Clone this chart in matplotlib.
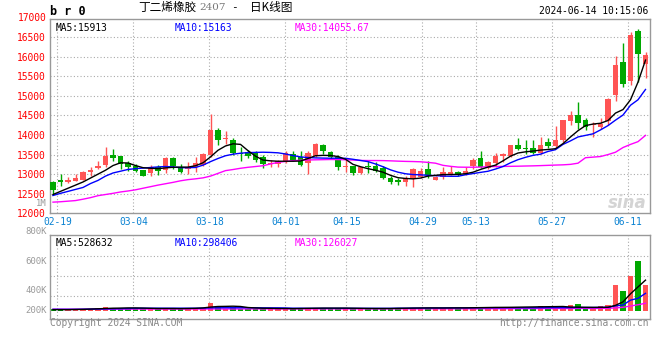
import matplotlib
matplotlib.use('Agg')
import matplotlib.pyplot as plt
import numpy as np

# daily candles, 02-08 .. 06-14 (80 trading days)
opens = [12790, 12862, 12793, 12836, 12862, 13067, 13151, 13246, 13500, 13468,
         13290, 13200, 13110, 13023, 13177, 13110, 13407, 13160, 13136, 13177,
         13240, 13500, 14115, 13903, 13877, 13553, 13560, 13535, 13433, 13263,
         13263, 13330, 13520, 13433, 13280, 13476, 13732, 13578, 13450, 13177,
         13220, 13023, 13220, 13220, 13160, 12895, 12836, 12793, 12880, 12939,
         13136, 12862, 12939, 13008, 13067, 13008, 13220, 13407, 13151, 13280,
         13460, 13460, 13732, 13660, 13660, 13535, 13809, 13716, 13860, 14354,
         14499, 14371, 14243, 14200, 14354, 15030, 15854, 15380, 16650, 15820]
highs = [12836, 13008, 12939, 13008, 13090, 13195, 13348, 13690, 13637, 13470,
         13348, 13263, 13118, 13238, 13246, 13450, 13450, 13263, 13305, 13450,
         13540, 14525, 14185, 14090, 13920, 13690, 13620, 13600, 13500, 13365,
         13360, 13580, 13600, 13580, 13600, 13800, 13775, 13600, 13500, 13365,
         13220, 13195, 13340, 13300, 13220, 12950, 12900, 12960, 13160, 13160,
         13340, 12940, 13195, 13220, 13090, 13170, 13400, 13586, 13330, 13535,
         13540, 13740, 13920, 13860, 13860, 13945, 13920, 14240, 14371, 14610,
         14840, 14440, 14328, 14440, 14943, 16010, 16349, 16630, 16699, 16130]
lows = [12496, 12690, 12767, 12818, 12840, 12946, 13136, 13180, 13330, 13136,
        13074, 13050, 12946, 12964, 12990, 13023, 13136, 13023, 13008, 13050,
        13200, 13450, 13732, 13775, 13480, 13330, 13400, 13300, 13160, 13180,
        13180, 13280, 13340, 13220, 13015, 13450, 13520, 13390, 13100, 13050,
        12990, 13000, 13030, 13050, 12880, 12760, 12720, 12700, 12660, 12900,
        12900, 12840, 12880, 12980, 12960, 12990, 13140, 13160, 13140, 13177,
        13300, 13440, 13620, 13520, 13520, 13510, 13680, 13690, 13830, 14243,
        14158, 14115, 13960, 14158, 14243, 14880, 15225, 15266, 15352, 15463]
closes = [12600, 12793, 12862, 12895, 13067, 13118, 13220, 13476, 13407, 13263,
          13180, 13090, 12946, 13195, 13092, 13407, 13220, 13050, 13177, 13280,
          13520, 14115, 13860, 13929, 13545, 13510, 13476, 13365, 13263, 13289,
          13348, 13553, 13365, 13246, 13545, 13775, 13587, 13450, 13195, 13195,
          13023, 13195, 13177, 13092, 12895, 12793, 12810, 12905, 13136, 13092,
          12990, 12920, 13067, 13067, 12980, 13092, 13373, 13177, 13305, 13476,
          13520, 13732, 13637, 13630, 13545, 13732, 13716, 13860, 14371, 14499,
          14302, 14200, 14269, 14286, 14926, 15780, 15310, 16550, 16080, 16050]

ma5 = [12480, 12560, 12640, 12720, 12800, 12900, 13000, 13100, 13220, 13290,
       13285, 13220, 13165, 13150, 13140, 13160, 13175, 13180, 13180, 13215,
       13290, 13440, 13610, 13720, 13775, 13760, 13600, 13460, 13360, 13340,
       13330, 13330, 13330, 13335, 13400, 13470, 13480, 13476, 13450, 13380,
       13250, 13190, 13140, 13100, 13050, 12970, 12910, 12890, 12880, 12900,
       12950, 12970, 12990, 12990, 12995, 13010, 13050, 13120, 13180, 13230,
       13340, 13460, 13540, 13570, 13590, 13615, 13630, 13650, 13780, 13950,
       14110, 14240, 14280, 14300, 14370, 14560, 14650, 14900, 15350, 15913]
ma10 = [12455, 12510, 12560, 12610, 12660, 12760, 12840, 12950, 13030, 13075,
        13120, 13140, 13155, 13170, 13185, 13195, 13185, 13165, 13165, 13170,
        13230, 13320, 13400, 13470, 13510, 13535, 13550, 13555, 13560, 13555,
        13545, 13515, 13475, 13440, 13425, 13415, 13410, 13407, 13407, 13405,
        13380, 13350, 13320, 13260, 13190, 13110, 13050, 13010, 12990, 12982,
        12970, 12962, 12950, 12946, 12946, 12985, 13015, 13045, 13074, 13130,
        13195, 13290, 13370, 13430, 13480, 13510, 13580, 13625, 13760, 13850,
        13950, 13990, 14030, 14130, 14240, 14380, 14510, 14760, 14900, 15163]
ma30 = [12285, 12295, 12310, 12325, 12360, 12400, 12450, 12480, 12510, 12545,
        12570, 12600, 12640, 12680, 12720, 12755, 12790, 12830, 12860, 12880,
        12905, 12950, 13020, 13090, 13118, 13150, 13175, 13195, 13215, 13260,
        13300, 13325, 13345, 13355, 13362, 13366, 13370, 13374, 13372, 13368,
        13360, 13350, 13348, 13348, 13346, 13340, 13332, 13326, 13322, 13316,
        13300, 13280, 13225, 13200, 13180, 13177, 13177, 13180, 13190, 13195,
        13198, 13200, 13203, 13208, 13212, 13218, 13225, 13232, 13238, 13250,
        13280, 13420, 13435, 13450, 13500, 13560, 13680, 13760, 13830, 13990]

# volume in thousands
volume = [20, 15, 15, 18, 18, 20, 46, 64, 46, 46,
          46, 46, 23, 23, 23, 46, 46, 20, 20, 46,
          46, 139, 64, 23, 64, 23, 23, 23, 23, 23,
          23, 46, 20, 46, 23, 46, 30, 25, 46, 23,
          46, 23, 23, 46, 23, 23, 23, 23, 46, 46,
          46, 23, 46, 46, 46, 46, 64, 64, 46, 64,
          46, 64, 64, 46, 64, 81, 64, 81, 64, 99,
          116, 46, 35, 81, 99, 447, 342, 609, 864, 447]
vol_ma5 = [15, 15, 15, 18, 20, 25, 30, 35, 40, 42,
           45, 45, 42, 38, 35, 35, 35, 33, 35, 38,
           45, 60, 70, 72, 75, 70, 52, 45, 40, 38,
           35, 35, 33, 35, 38, 40, 42, 42, 42, 42,
           40, 38, 36, 35, 35, 35, 38, 40, 42, 44,
           45, 45, 44, 45, 46, 46, 48, 50, 52, 54,
           55, 56, 58, 60, 62, 65, 66, 68, 70, 60,
           58, 56, 55, 55, 56, 90, 150, 290, 410, 528.632]
vol_ma10 = [20, 20, 20, 20, 22, 24, 26, 28, 30, 32,
            35, 38, 40, 40, 40, 40, 40, 40, 40, 40,
            42, 46, 48, 48, 48, 48, 48, 48, 46, 46,
            46, 44, 40, 40, 38, 38, 38, 38, 38, 38,
            38, 38, 38, 38, 38, 38, 40, 40, 42, 42,
            44, 44, 45, 46, 46, 46, 47, 48, 48, 48,
            48, 48, 48, 48, 48, 48, 50, 50, 50, 50,
            52, 52, 52, 54, 56, 80, 96, 180, 212, 298.406]
vol_ma30 = [22, 22, 22, 22, 22, 23, 23, 23, 24, 24,
            24, 25, 25, 25, 25, 25, 25, 25, 26, 26,
            26, 27, 27, 27, 27, 27, 28, 28, 28, 28,
            28, 28, 28, 28, 28, 28, 28, 28, 28, 28,
            28, 28, 28, 28, 28, 29, 29, 29, 29, 29,
            30, 30, 30, 30, 30, 30, 31, 31, 32, 32,
            32, 33, 33, 33, 34, 34, 34, 35, 35, 35,
            36, 36, 36, 37, 38, 45, 56, 78, 100, 126.027]

tick_idx = [1, 11, 21, 31, 39, 49, 56, 66, 76]
tick_labels = ['02-19', '03-04', '03-18', '04-01', '04-15', '04-29', '05-13', '05-27', '06-11']
price_ticks = [12000, 12500, 13000, 13500, 14000, 14500, 15000, 15500, 16000, 16500]
vol_labels = ['1M', '800K', '600K', '400K', '200K']

RED = '#ff5454'
GREEN = '#00a800'
GRID = '#aaaaaa'
FRAME = '#999999'
MONO = 'DejaVu Sans Mono'
FS = 6.9

o = np.array(opens, float)
c = np.array(closes, float)
h = np.array(highs, float)
l = np.array(lows, float)
x = np.arange(len(o))
up = c >= o
cols = np.where(up, RED, GREEN)
vol = np.array(volume) * 1000

W, H = 660, 360
fig = plt.figure(figsize=(6.6, 3.6), dpi=100)
fig.patch.set_facecolor('white')

def fx(px):
    return px / W

def fy(py):
    return 1 - py / H

ax = fig.add_axes([fx(50), fy(213.3), fx(600), 194.3 / H])
axv = fig.add_axes([fx(50), fy(319.3), fx(600), 84.6 / H])

grid_x = np.array(tick_idx) * 1.014 - 0.44

for a in (ax, axv):
    a.set_xlim(-0.4, 79.6)
    for s in a.spines.values():
        s.set_color(FRAME)
        s.set_linewidth(1.0)
    a.tick_params(length=0)
    for gx in grid_x:
        a.axvline(gx, color=GRID, lw=0.8, ls=(0, (1, 2)), zorder=0)

# price panel
ax.set_ylim(12000, 16963)
ax.set_yticks(price_ticks)
ax.set_yticklabels([str(t) for t in price_ticks], family=MONO, fontsize=FS, color='red')
ax.tick_params(axis='y', pad=3)
for t in price_ticks[1:]:
    ax.axhline(t, color=GRID, lw=0.8, ls=(0, (1, 2)), zorder=0)
ax.text(-0.006, 17000, '17000', transform=ax.get_yaxis_transform(), ha='right', va='center',
        family=MONO, fontsize=FS, color='red', clip_on=False)
ax.set_xticks(grid_x)
ax.set_xticklabels(tick_labels, family=MONO, fontsize=FS, color='#0a82d2')
ax.tick_params(axis='x', pad=3)

ax.vlines(x, l, h, colors=cols, lw=1.0, zorder=2)
body = np.maximum(np.abs(c - o), 28)
ax.bar(x, body, bottom=np.minimum(o, c), width=0.76, color=cols, lw=0, zorder=3)
ax.plot(x, ma30, color='#ff00ff', lw=1.0, zorder=4)
ax.plot(x, ma10, color='#0000ff', lw=1.0, zorder=4)
ax.plot(x, ma5, color='black', lw=1.0, zorder=4)

ax.text(0.009, 0.955, 'MA5:15913', transform=ax.transAxes, family=MONO, fontsize=FS,
        color='black', va='center')
ax.text(0.208, 0.955, 'MA10:15163', transform=ax.transAxes, family=MONO, fontsize=FS,
        color='#0000ff', va='center')
ax.text(0.408, 0.955, 'MA30:14055.67', transform=ax.transAxes, family=MONO, fontsize=FS,
        color='#ff00ff', va='center')
ax.text(0.995, 0.055, 'sina', transform=ax.transAxes, ha='right', va='center',
        fontsize=12, color='#d4d4d4', style='italic', weight='bold', zorder=1)

# volume panel
axv.set_ylim(-153e3, 1319e3)
axv.set_yticks([])
axv.set_xticks([])
for gy in (953e3, 606e3, 258e3):
    axv.axhline(gy, color=GRID, lw=0.8, ls=(0, (1, 2)), zorder=0)
axv.bar(x, vol, width=0.76, color=cols, lw=0, zorder=2)
axv.plot(x, np.array(vol_ma30) * 1000, color='#ff00ff', lw=1.0, zorder=3)
axv.plot(x, np.array(vol_ma10) * 1000, color='#0000ff', lw=1.0, zorder=3)
axv.plot(x, np.array(vol_ma5) * 1000, color='black', lw=1.0, zorder=3)
axv.text(0.009, 0.9, 'MA5:528632', transform=axv.transAxes, family=MONO, fontsize=FS,
         color='black', va='center')
axv.text(0.208, 0.9, 'MA10:298406', transform=axv.transAxes, family=MONO, fontsize=FS,
         color='#0000ff', va='center')
axv.text(0.408, 0.9, 'MA30:126027', transform=axv.transAxes, family=MONO, fontsize=FS,
         color='#ff00ff', va='center')

for lab, py in zip(vol_labels, [203.5, 231, 261, 290.7, 310.7]):
    fig.text(fx(46.5), fy(py), lab, ha='right', va='center', family=MONO, fontsize=6.4,
             color='#999999')

# header
fig.text(fx(50), fy(11.5), 'b r 0', ha='left', va='center', family=MONO, fontsize=8.5,
         weight='bold', color='black')
cjk = ['Noto Sans CJK SC', 'DejaVu Sans']
fig.text(fx(138), fy(7.5), '丁二烯橡胶', ha='left', va='center', family=cjk, fontsize=8.4,
         color='black')
fig.text(fx(199), fy(8), '2407', ha='left', va='center', family='DejaVu Serif', fontsize=7.5,
         color='#777777')
fig.text(fx(231), fy(7.5), '-', ha='left', va='center', family=MONO, fontsize=8,
         color='black')
fig.text(fx(250), fy(7.5), '日K线图', ha='left', va='center', family=cjk, fontsize=8.4,
         color='black')
fig.text(fx(648), fy(11.5), '2024-06-14 10:15:06', ha='right', va='center', family=MONO,
         fontsize=FS, color='black')

# footer
fig.text(fx(50), fy(323.5), 'Copyright 2024 SINA.COM', ha='left', va='center', family=MONO,
         fontsize=FS, color='#888888')
fig.text(fx(649), fy(323.5), 'http://finance.sina.com.cn', ha='right', va='center', family=MONO,
         fontsize=FS, color='#888888')

fig.savefig('out.png', dpi=100)
